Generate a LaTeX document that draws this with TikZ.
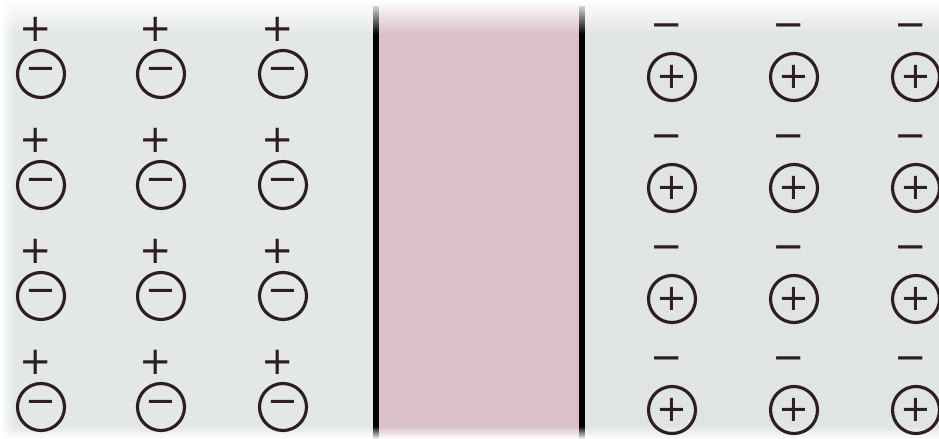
\documentclass[tikz,border=0pt]{standalone}
\usepackage{fontspec}
\setmainfont{DejaVu Sans}
\usetikzlibrary{fadings}

\definecolor{ionink}{HTML}{2E1E22}
\definecolor{leftbg}{HTML}{E3E8E6}
\definecolor{rightbg}{HTML}{E1E4E4}
\definecolor{gapfill}{HTML}{D9C0C9}

\tikzset{
	ion/.style={circle,draw=ionink,line width=1.8pt,minimum size=0.94cm,inner sep=0pt,text=ionink,font=\fontsize{21}{21}\selectfont},
	halo/.style={inner sep=0pt,text=ionink,font=\fontsize{22}{22}\selectfont}
}

\begin{document}
\begin{tikzpicture}[x=0.02cm,y=-0.02cm]
	\useasboundingbox (0,0) rectangle (939,439);

	% the two solutions and the membrane between them
	\fill[leftbg] (0,0) rectangle (378,439);
	\fill[rightbg] (578,0) rectangle (939,439);
	\fill[gapfill] (378,0) rectangle (580,439);
	\draw[line width=0.12cm] (376,6) -- (376,439);
	\draw[line width=0.12cm] (582,6) -- (582,439);

	% washed out photo edges
	\fill[white,path fading=south] (0,0) rectangle (939,34);
	\fill[white,path fading=north] (0,426) rectangle (939,439);
	\fill[white,path fading=east] (0,0) rectangle (14,439);

	\foreach \y [count=\r] in {74,185,296,407} {
		\foreach \x [count=\c] in {41,161,283} {
			\node[ion] (lneg-\r-\c) at (\x,\y) {−};
			\node[halo] (lpos-\r-\c) at (\x-5,\y-45) {+};
		}
		\foreach \x [count=\c] in {672,794,916} {
			\node[ion] (rpos-\r-\c) at (\x,\y+3) {+};
			\node[halo] (rneg-\r-\c) at (\x-5,\y-43) {−};
		}
	}
\end{tikzpicture}
\end{document}
